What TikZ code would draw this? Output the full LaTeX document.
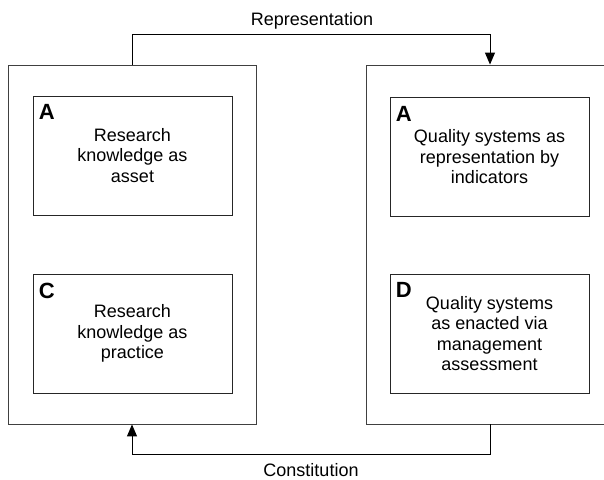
\documentclass[tikz,border=0pt]{standalone}
\usepackage{fontspec}
\setmainfont{Liberation Sans}
\usetikzlibrary{arrows.meta}
\tikzset{
  outerbox/.style={draw=black!75, line width=0.9pt, minimum width=248pt, minimum height=359pt, inner sep=0pt},
  innerbox/.style={draw=black!85, line width=0.9pt, minimum width=199pt, minimum height=119pt, inner sep=0pt,
     align=center, font=\fontsize{18}{20.5}\selectfont},
  letter/.style={anchor=north west, inner sep=0pt, font=\fontsize{22}{22}\selectfont\bfseries},
  conn/.style={draw=black, line width=1pt},
  arr/.style={-{Triangle[length=12pt,width=10pt]}},
  lbl/.style={font=\fontsize{18}{20}\selectfont, inner sep=0pt}
}
\begin{document}
\begin{tikzpicture}[x=1pt,y=-1pt]
\useasboundingbox (0,0) rectangle (604,479);
\clip (0,0) rectangle (604,479);
\fill[white] (0,0) rectangle (604,479);
\node[outerbox] (L) at (132,244.5) {};
\node[outerbox] (R) at (490,244.5) {};
\node[innerbox] (LA) at (132.5,155.5) {Research\\knowledge as\\asset};
\node[innerbox] (LC) at (132.5,333.5) {Research\\knowledge as\\practice};
\node[innerbox] (RA) at (489.5,157) {Quality systems as\\representation by\\indicators};
\node[innerbox] (RD) at (489.5,333.5) {Quality systems\\as enacted via\\management\\assessment};
\node[letter] (la) at ([xshift=6pt,yshift=-9pt]LA.north west) {A};
\node[letter] (lc) at ([xshift=6pt,yshift=-9pt]LC.north west) {C};
\node[letter] (ra) at ([xshift=6pt,yshift=-9pt]RA.north west) {A};
\node[letter] (rd) at ([xshift=6pt,yshift=-9pt]RD.north west) {D};
\draw[conn,arr] (L.north) -- ++(0,-30) -| (R.north);
\draw[conn,arr] (R.south) -- ++(0,30) -| (L.south);
\node[lbl] (rep) at (312,20.5) {Representation};
\node[lbl] (con) at (311,470) {Constitution};
\end{tikzpicture}
\end{document}
